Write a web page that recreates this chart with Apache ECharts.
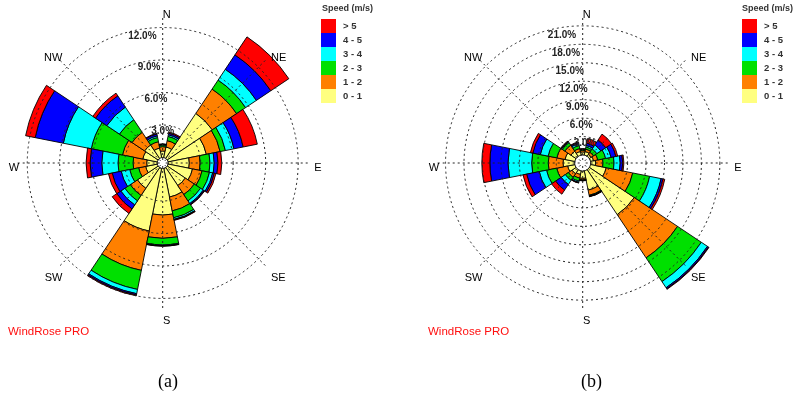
<!DOCTYPE html>
<html>
<head>
<meta charset="utf-8">
<script src="https://cdn.jsdelivr.net/npm/echarts@6/dist/echarts.min.js"></script>
<style>
  html, body { margin: 0; background: #fff; }
  #viz { width: 800px; height: 411px; }
</style>
</head>
<body>
<div id="viz"></div>
<script>
// 16 sectors, clockwise from north
var dirs = ['N','NNE','NE','ENE','E','ESE','SE','SSE','S','SSW','SW','WSW','W','WNW','NW','NNW'];
var compass = ['N','NE','E','SE','S','SW','W','NW'];
var classes = ['0 - 1','1 - 2','2 - 3','3 - 4','4 - 5','> 5'];
var colors = ['#FFFF80','#FF8000','#00E000','#00FFFF','#0000FF','#FF0000'];

// (a) frequency (%) per speed class
var a01 = [0.6,1.0,5.0,3.6,1.95,2.3,2.0,2.7,4.3,5.9,2.3,1.1,0.97,1.37,1.5,0.9];
var a12 = [0.4,0.6,2.7,1.3,1.0,0.9,1.0,1.3,2.15,3.7,0.8,0.66,1.26,1.91,1.4,0.6];
var a23 = [0.15,0.4,1.0,0.5,0.91,0.7,0.7,0.65,0.6,1.8,0.6,0.84,1.39,2.94,1.4,0.4];
var a34 = [0.05,0.15,1.2,0.8,0.39,0.3,0.3,0.15,0.07,0.4,0.45,0.8,1.5,2.63,1.4,0.15];
var a45 = [0.03,0.15,1.6,0.87,0.35,0.15,0.1,0.05,0.03,0.12,0.45,0.85,1.08,2.65,1.25,0.17];
var a5p = [0.02,0.1,2.0,1.33,0.35,0.15,0.05,0.05,0.02,0.08,0.5,0.35,0.37,0.9,0.3,0.06];

// (b) frequency (%) per speed class
var b01 = [0.5,0.6,0.4,0.5,0.8,2.6,8.8,3.2,1.2,0.6,0.8,1.2,1.9,1.63,1.0,0.6];
var b12 = [0.25,0.4,0.4,0.7,1.2,4.4,8.45,0.85,0.25,0.6,0.7,1.8,2.4,1.35,1.2,0.5];
var b23 = [0.15,0.35,0.66,1.3,1.8,2.8,4.65,0.1,0.07,0.5,0.6,1.7,2.7,1.46,0.5,0.5];
var b34 = [0.05,0.25,0.78,0.9,1.0,1.9,1.2,0.05,0.03,0.2,0.8,1.2,3.85,1.29,0.15,0.3];
var b45 = [0.03,0.4,0.96,0.8,0.4,0.3,0.2,0.05,0.02,0.08,1.1,2.1,2.95,1.24,0.07,0.2];
var b5p = [0.02,0.75,1.15,0.3,0.2,0.3,0.1,0.05,0.03,0.04,0.8,0.6,1.3,0.4,0.08,0.1];

// ring steps (%) of each rose
var ringsA = [3, 12];   // interval, last ring
var ringsB = [3, 21];

var dash = { color: '#222', type: [2, 3], width: 1 };

var polar = [], angleAxis = [], radiusAxis = [], series = [];

/* one rose = rings polar + spokes polar + compass label polar + bar polar */
function addRose(n, cx, cy, inner, px, rings, barMax, data){
    var p0 = polar.length;
    // rings and their % labels
    polar.push({ center: [cx, cy], radius: [inner, inner + px * rings[1]] });
    angleAxis.push({ polarIndex: p0, type: 'value', min: 0, max: 360, startAngle: 102, show: false });
    radiusAxis.push({
        polarIndex: p0, min: 0, max: rings[1], interval: rings[0], z: 10,
        axisLine: { show: false }, axisTick: { show: false },
        splitLine: { show: true, lineStyle: dash },
        axisLabel: {
            margin: -8, align: 'center', verticalAlign: 'top', padding: [2 + n, 0, 0, 0],
            fontSize: 10, fontWeight: 'bold', color: '#222',
            formatter: function(v){ return v ? v.toFixed(1) + '%' : ''; }
        }
    });
    // spokes
    polar.push({ center: [cx, cy], radius: [0, 145] });
    angleAxis.push({
        polarIndex: p0 + 1, type: 'value', min: 0, max: 360, interval: 45,
        startAngle: 90, clockwise: true, z: 10,
        axisLine: { show: false }, axisTick: { show: false }, axisLabel: { show: false },
        splitLine: { show: true, lineStyle: dash }
    });
    radiusAxis.push({ polarIndex: p0 + 1, show: false, min: 0, max: 1 });
    // compass names, set a little low and right like the original
    polar.push({ center: [cx + 4, cy + 5], radius: [0, 143] });
    angleAxis.push({
        polarIndex: p0 + 2, type: 'value', min: 0, max: 360, interval: 45,
        startAngle: 90, clockwise: true, z: 10,
        axisLine: { show: false }, axisTick: { show: false }, splitLine: { show: false },
        axisLabel: {
            margin: 4.5, fontSize: 11, color: '#000',
            formatter: function(v){ return compass[v / 45] || ''; }
        }
    });
    radiusAxis.push({ polarIndex: p0 + 2, show: false, min: 0, max: 1 });
    // petals
    polar.push({ center: [cx, cy], radius: [inner, inner + px * barMax] });
    angleAxis.push({ polarIndex: p0 + 3, type: 'category', data: dirs, startAngle: 90 + 11.25, show: false });
    radiusAxis.push({ polarIndex: p0 + 3, min: 0, max: barMax, show: false });

    for (var i in data){
        series.push({
            type: 'bar', name: classes[i], coordinateSystem: 'polar', polarIndex: p0 + 3,
            stack: 'rose' + n, data: data[i], barCategoryGap: '0%', silent: true,
            itemStyle: { color: colors[i], borderColor: '#000', borderWidth: 0.9 }
        });
    }
}

addRose(0, 162.7, 163, 5.5, 10.83, ringsA, 14, [a01, a12, a23, a34, a45, a5p]);
addRose(1, 582.7, 163, 8, 6.15, ringsB, 24, [b01, b12, b23, b34, b45, b5p]);

function speedLegend(left){
    return {
        left: left, top: 19, orient: 'vertical', padding: 0,
        itemWidth: 15, itemHeight: 14, itemGap: 0, icon: 'rect',
        selectedMode: false, data: classes.slice().reverse(),
        itemStyle: { borderWidth: 0 },
        textStyle: { fontSize: 9.5, fontWeight: 'bold', color: '#333', padding: [0, 0, 0, 2] }
    };
}

function label(text, left, top, style){
    return { text: text, left: left, top: top, padding: 0, textStyle: style };
}

var headStyle = { fontSize: 9, fontWeight: 'bold', color: '#333' };
var proStyle = { fontSize: 11.5, fontWeight: 'normal', color: '#FF1010' };
var capStyle = { fontSize: 18, fontWeight: 'normal', color: '#000', fontFamily: 'Liberation Serif' };

var option = {
    animation: false,
    backgroundColor: '#fff',
    textStyle: { fontFamily: 'Liberation Sans, Arial, sans-serif' },
    title: [
        label('Speed (m/s)', 322, 4, headStyle),
        label('Speed (m/s)', 742, 4, headStyle),
        label('WindRose PRO', 8, 326, proStyle),
        label('WindRose PRO', 428, 326, proStyle),
        label('(a)', 158, 373, capStyle),
        label('(b)', 581, 373, capStyle)
    ],
    legend: [speedLegend(321), speedLegend(742)],
    polar: polar,
    angleAxis: angleAxis,
    radiusAxis: radiusAxis,
    series: series
};

var myChart = echarts.init(document.getElementById('viz'));
myChart.setOption(option);
</script>
</body>
</html>
